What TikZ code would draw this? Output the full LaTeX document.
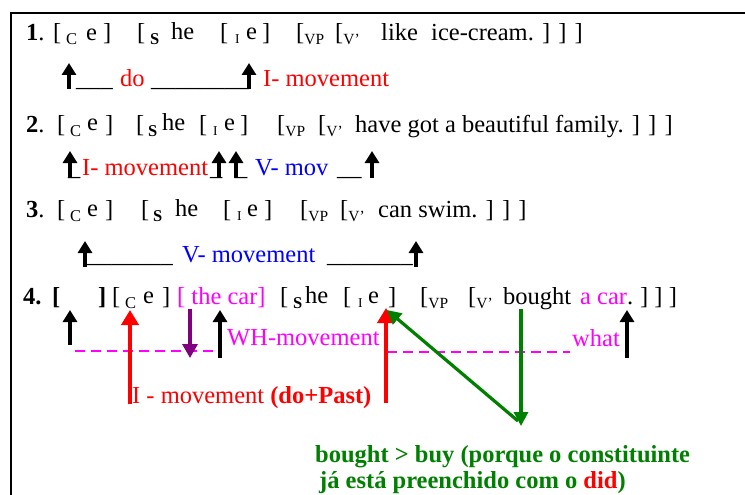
\documentclass[tikz,border=0pt]{standalone}
\usepackage{fontspec}
\setmainfont{Liberation Serif}
\usetikzlibrary{arrows.meta}
\definecolor{mag}{RGB}{255,0,255}
\definecolor{grn}{RGB}{0,128,0}
\definecolor{pur}{RGB}{128,0,128}
\definecolor{rd}{RGB}{255,0,0}
\definecolor{bl}{RGB}{0,0,255}
\newcommand\lowsub[1]{\raisebox{-4pt}{\fontsize{16.5}{17}\selectfont #1}}
\newcommand\lowsubv[1]{\raisebox{-4pt}{\fontsize{15.5}{16}\selectfont #1}}
\newcommand\lowsubi[1]{\raisebox{-3pt}{\fontsize{13.5}{14}\selectfont #1}}
\begin{document}
\begin{tikzpicture}[x=1pt,y=-1pt,
 tx/.style={anchor=base west,inner sep=0pt,font=\fontsize{24.5}{28}\selectfont},
 blk/.style={line width=3.6pt,-{Triangle[width=14pt,length=12pt]}},
 redarr/.style={rd,line width=4pt,-{Triangle[width=17pt,length=15pt]}},
 grnarr/.style={grn,line width=3.2pt,-{Triangle[width=14pt,length=14pt]}},
 purarr/.style={pur,line width=3.2pt,-{Triangle[width=15pt,length=14pt]}},
 dsh/.style={mag,line width=1.5pt,dash pattern=on 10pt off 6pt}]
\clip (0,0) rectangle (745,495);
\draw[line width=1.4pt] (745,13) -- (11,13) -- (11,495);
% line 1
\node[tx] (n1) at (26,41) {\textbf{1}.};
\node[tx] (b1a) at (53,41) {[};
\node[tx] (c1) at (66,41) {\lowsub{C}};
\node[tx] (e1a) at (86,41) {e};
\node[tx] (b1b) at (103,41) {]};
\node[tx] (b1c) at (137,41) {[};
\node[tx] (s1) at (150,41) {\lowsub{\textbf{S}}};
\node[tx] (he1) at (171,40) {he};
\node[tx] (b1d) at (220,41) {[};
\node[tx] (i1) at (235,41) {\lowsubi{I}};
\node[tx] (e1b) at (246,40) {e};
\node[tx] (b1e) at (262,41) {]};
\node[tx] (vp1) at (296,41) {[\lowsubv{VP}};
\node[tx] (vb1) at (335,41) {[\lowsubv{V’}};
\node[tx] (lk1) at (381,41) {like};
\node[tx] (ic1) at (431,41) {ice-cream. ] ] ]};
% row 1
\node[tx] (u1a) at (76,87) {\_\_\_};
\node[tx,rd] (do1) at (120,87) {do};
\node[tx] (u1b) at (151,87) {\_\_\_\_\_\_\_\_};
\node[tx,rd] (im1) at (263,87) {I- movement};
\coordinate (a1b) at (69,89); \coordinate (a1t) at (69,63);
\coordinate (a2b) at (249,89); \coordinate (a2t) at (249,63);
\draw[blk] (a1b) -- (a1t);
\draw[blk] (a2b) -- (a2t);
% line 2
\node[tx] (n2) at (26,132) {\textbf{2}.};
\node[tx] (b2a) at (57,132) {[};
\node[tx] (c2) at (70,132) {\lowsub{C}};
\node[tx] (e2a) at (87,131) {e};
\node[tx] (b2b) at (105,132) {]};
\node[tx] (b2c) at (136,132) {[};
\node[tx] (s2) at (148,132) {\lowsub{\textbf{S}}};
\node[tx] (he2) at (162,131) {he};
\node[tx] (b2d) at (199,132) {[};
\node[tx] (i2) at (213,132) {\lowsubi{I}};
\node[tx] (e2b) at (224,131) {e};
\node[tx] (b2e) at (240,132) {]};
\node[tx] (vp2) at (277,132) {[\lowsubv{VP}};
\node[tx] (vb2) at (318,132) {[\lowsubv{V’}};
\node[tx] (hv2) at (355,132) {have got a beautiful family. ] ] ]};
% row 2
\node[tx] (u2a) at (68,175) {\_};
\node[tx,rd] (im2) at (82,175) {I- movement};
\node[tx] (u2b) at (210,175) {\_};
\node[tx] (u2c) at (235,175) {\_};
\node[tx,bl] (vm2) at (255,175) {V- mov};
\node[tx] (u2d) at (337,175) {\_\_};
\coordinate (a3b) at (70,178); \coordinate (a3t) at (70,151);
\coordinate (a4b) at (219,178); \coordinate (a4t) at (219,151);
\coordinate (a5b) at (236,178); \coordinate (a5t) at (236,151);
\coordinate (a6b) at (372,178); \coordinate (a6t) at (372,151);
\draw[blk] (a3b) -- (a3t);
\draw[blk] (a4b) -- (a4t);
\draw[blk] (a5b) -- (a5t);
\draw[blk] (a6b) -- (a6t);
% line 3
\node[tx] (n3) at (26,217) {\textbf{3}.};
\node[tx] (b3a) at (57,217) {[};
\node[tx] (c3) at (70,217) {\lowsub{C}};
\node[tx] (e3a) at (87,216) {e};
\node[tx] (b3b) at (105,217) {]};
\node[tx] (b3c) at (141,217) {[};
\node[tx] (s3) at (153,217) {\lowsub{\textbf{S}}};
\node[tx] (he3) at (175,216) {he};
\node[tx] (b3d) at (223,217) {[};
\node[tx] (i3) at (237,217) {\lowsubi{I}};
\node[tx] (e3b) at (247,216) {e};
\node[tx] (b3e) at (264,217) {]};
\node[tx] (vp3) at (300,217) {[\lowsubv{VP}};
\node[tx] (vb3) at (340,217) {[\lowsubv{V’}};
\node[tx] (cs3) at (378,217) {can swim. ] ] ]};
% row 3
\node[tx] (u3a) at (87,262) {\_\_\_\_\_\_\_};
\node[tx,bl] (vm3) at (182,262) {V- movement};
\node[tx] (u3b) at (327,262) {\_\_\_\_\_\_\_};
\coordinate (a7b) at (85,267); \coordinate (a7t) at (85,241);
\coordinate (a8b) at (416,267); \coordinate (a8t) at (416,241);
\draw[blk] (a7b) -- (a7t);
\draw[blk] (a8b) -- (a8t);
% line 4
\node[tx] (n4) at (23,304) {\textbf{4.}};
\node[tx] (b4a) at (52,304) {\textbf{[}};
\node[tx] (b4b) at (98,304) {\textbf{]}};
\node[tx] (b4c) at (112,304) {[};
\node[tx] (c4) at (125,304) {\lowsub{C}};
\node[tx] (e4a) at (143,303) {e};
\node[tx] (b4d) at (162,304) {]};
\node[tx,mag] (tc4) at (177,304) {[ the car]};
\node[tx] (b4e) at (280,304) {[};
\node[tx] (s4) at (293,304) {\lowsub{\textbf{S}}};
\node[tx] (he4) at (305,303) {he};
\node[tx] (b4f) at (343,304) {[};
\node[tx] (i4) at (358,304) {\lowsubi{I}};
\node[tx] (e4b) at (368,303) {e};
\node[tx] (b4g) at (388,304) {]};
\node[tx] (vp4) at (420,304) {[\lowsubv{VP}};
\node[tx] (vb4) at (468,304) {[\lowsubv{V’}};
\node[tx] (bo4) at (503,304) {bought};
\node[tx,mag] (ac4) at (580,304) {a car};
\node[tx] (dt4) at (627,304) {.};
\node[tx] (cl4) at (640,304) {] ] ]};
% row 4
\coordinate (d1a) at (75,351); \coordinate (d1b) at (220,351);
\coordinate (d2a) at (387,352); \coordinate (d2b) at (570,352);
\draw[dsh] (d1a) -- (d1b);
\draw[dsh] (d2a) -- (d2b);
\node[tx,mag] (wh) at (227,345) {WH-movement};
\node[tx,mag] (wt) at (572,346) {what};
\coordinate (k1b) at (70,345); \coordinate (k1t) at (70,310);
\coordinate (k2b) at (220,358); \coordinate (k2t) at (220,310);
\coordinate (k3b) at (627,358); \coordinate (k3t) at (627,310);
\draw[blk] (k1b) -- (k1t);
\draw[blk] (k2b) -- (k2t);
\draw[blk] (k3b) -- (k3t);
\coordinate (r1b) at (130,404); \coordinate (r1t) at (130,310);
\coordinate (r2b) at (386,403); \coordinate (r2t) at (386,308);
\draw[redarr] (r1b) -- (r1t);
\draw[redarr] (r2b) -- (r2t);
\coordinate (p1a) at (190,309); \coordinate (p1b) at (190,358);
\draw[purarr] (p1a) -- (p1b);
\coordinate (g1a) at (521,309); \coordinate (g1b) at (521,426);
\coordinate (g2a) at (518,421); \coordinate (g2b) at (387,310);
\draw[grnarr] (g1a) -- (g1b);
\draw[grnarr] (g2a) -- (g2b);
\node[tx,rd] (imv) at (132,403) {I - movement \textbf{(do+Past)}};
\node[tx,grn,font=\fontsize{24.5}{28}\selectfont\bfseries] (gt1) at (315,462) {bought > buy (porque o constituinte};
\node[tx,grn,font=\fontsize{24.5}{28}\selectfont\bfseries] (gt2) at (319,488) {já está preenchido com o {\color{rd}did})};
\end{tikzpicture}
\end{document}
